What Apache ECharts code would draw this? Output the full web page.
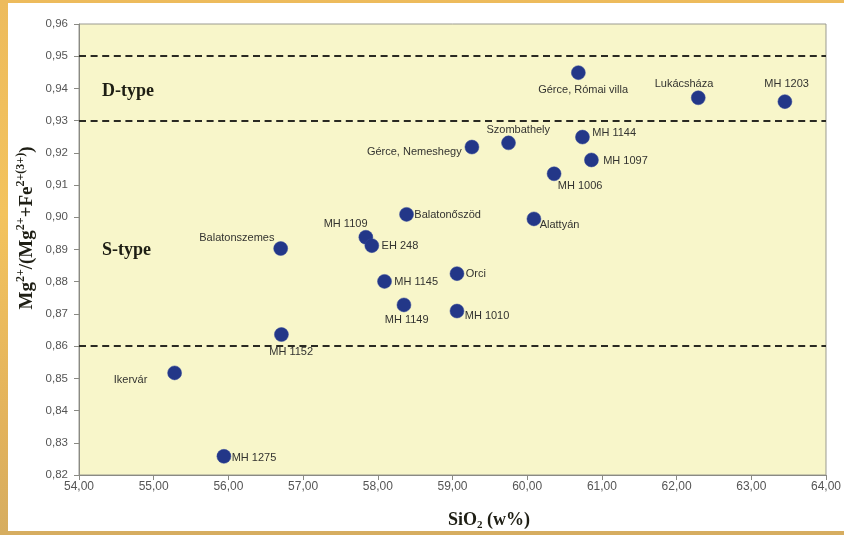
<!DOCTYPE html>
<html>
<head>
<meta charset="utf-8">
<script src="https://cdn.jsdelivr.net/npm/echarts@6/dist/echarts.min.js"></script>
<style>
  html, body { margin:0; padding:0; width:844px; height:535px; overflow:hidden;
    background: linear-gradient(180deg, #EDBB5C 0%, #F3C35E 40%, #E2B25C 80%, #D6AD60 100%); }
  #panel { position:absolute; left:8px; top:3px; width:836px; height:528px; background:#ffffff; }
  #chart { position:absolute; left:0; top:0; width:844px; height:535px; }
</style>
</head>
<body>
<div id="panel"></div>
<div id="chart"></div>
<script>
// ---- data ----
const sampleNames = [
  'Gérce, Római villa', 'Lukácsháza', 'MH 1203', 'MH 1144', 'Szombathely',
  'Gérce, Nemeshegy', 'MH 1097', 'MH 1006', 'Balatonőszöd', 'Alattyán',
  'MH 1109', 'EH 248', 'Balatonszemes', 'Orci', 'MH 1145',
  'MH 1149', 'MH 1010', 'MH 1152', 'Ikervár', 'MH 1275'
];
const sio2 = [
  60.685, 62.29, 63.45, 60.74, 59.75,
  59.26, 60.86, 60.36, 58.385, 60.09,
  57.84, 57.92, 56.70, 59.06, 58.09,
  58.35, 59.06, 56.71, 55.28, 55.94
];
const mgRatio = [
  0.9449, 0.9371, 0.9359, 0.9249, 0.9231,
  0.9218, 0.9178, 0.9135, 0.9009, 0.8995,
  0.8938, 0.8912, 0.8903, 0.8825, 0.8801,
  0.8728, 0.8709, 0.8636, 0.8517, 0.8258
];
const boundaryLines = [0.95, 0.93, 0.86];
const fieldLabels = ['D-type', 'S-type'];

// ---- presentation: label placement relative to dot centre [dx, dy, align] ----
const labelPlacement = {
  'Gérce, Római villa': [5, 18, 'center'],
  'Lukácsháza': [-14, -14, 'center'],
  'MH 1203': [2, -17, 'center'],
  'MH 1144': [10, -4, 'left'],
  'Szombathely': [10, -13, 'center'],
  'Gérce, Nemeshegy': [-10, 5, 'right'],
  'MH 1097': [12, 1, 'left'],
  'MH 1006': [4, 12, 'left'],
  'Balatonőszöd': [8, 1, 'left'],
  'Alattyán': [6, 6, 'left'],
  'MH 1109': [-20, -13, 'center'],
  'EH 248': [10, 1, 'left'],
  'Balatonszemes': [-6, -10, 'right'],
  'Orci': [9, 1, 'left'],
  'MH 1145': [10, 1, 'left'],
  'MH 1149': [3, 15, 'center'],
  'MH 1010': [8, 5, 'left'],
  'MH 1152': [10, 18, 'center'],
  'Ikervár': [-27, 7, 'right'],
  'MH 1275': [8, 2, 'left']
};

const SYM = 14;
const seriesData = sampleNames.map((n, i) => {
  const p = labelPlacement[n];
  return {
    name: n,
    value: [sio2[i], mgRatio[i]],
    label: {
      show: true,
      formatter: n,
      position: [SYM / 2 + p[0], SYM / 2 + p[1]],
      align: p[2],
      verticalAlign: 'middle'
    }
  };
});

const fmt = v => v.toFixed(2).replace('.', ',');
const serifBold = { fontFamily: 'Liberation Serif', fontWeight: 'bold', fill: '#1e1e14' };

const chart = echarts.init(document.getElementById('chart'), null, { renderer: 'canvas' });
chart.setOption({
  animation: false,
  backgroundColor: 'transparent',
  grid: {
    left: 79, right: 16, top: 24, bottom: 60,
    show: true, backgroundColor: '#F8F6CA', borderColor: '#9a9a90', borderWidth: 1
  },
  xAxis: {
    type: 'value', min: 54, max: 64, interval: 1,
    axisLine: { show: true, lineStyle: { color: '#8a8a84', width: 1 } },
    axisTick: { show: true, length: 5, lineStyle: { color: '#8a8a84' } },
    splitLine: { show: false },
    axisLabel: { formatter: fmt, color: '#555', fontSize: 12, fontFamily: 'Liberation Sans', margin: 6 }
  },
  yAxis: {
    type: 'value', min: 0.82, max: 0.96, interval: 0.01,
    axisLine: { show: true, lineStyle: { color: '#8a8a84', width: 1 } },
    axisTick: { show: true, length: 5, lineStyle: { color: '#8a8a84' } },
    splitLine: { show: false },
    axisLabel: { formatter: fmt, color: '#555', fontSize: 11.5, fontFamily: 'Liberation Sans', margin: 11 }
  },
  series: [{
    type: 'scatter',
    symbol: 'circle',
    symbolSize: SYM,
    itemStyle: { color: '#233788', opacity: 1, borderColor: '#33479a', borderWidth: 0.5 },
    label: { color: '#333330', fontSize: 11, fontFamily: 'Liberation Sans' },
    data: seriesData,
    markLine: {
      silent: true,
      symbol: ['none', 'none'],
      label: { show: false },
      lineStyle: { color: '#2a2a22', width: 2, type: [7, 4.6] },
      data: boundaryLines.map(v => ({ yAxis: v }))
    }
  }],
  graphic: [
    { type: 'text', left: 102, top: 82, style: Object.assign({ text: fieldLabels[0], fontSize: 18 }, serifBold) },
    { type: 'text', left: 102, top: 241, style: Object.assign({ text: fieldLabels[1], fontSize: 18 }, serifBold) },
    {
      type: 'text', x: 27, y: 228, rotation: Math.PI / 2,
      style: {
        text: 'Mg{s|2+}/(Mg{s|2+}+Fe{s|2+(3+)})',
        fontFamily: 'Liberation Serif', fontWeight: 'bold', fontSize: 19, fill: '#1e1e14',
        align: 'center', verticalAlign: 'middle', textAlign: 'center', textVerticalAlign: 'middle',
        lineHeight: 24,
        rich: {
          s: { fontSize: 12, fontFamily: 'Liberation Serif', fontWeight: 'bold', verticalAlign: 'top', lineHeight: 12 }
        }
      }
    },
    {
      type: 'text', x: 448, y: 520,
      style: {
        text: 'SiO{d|2} (w%)',
        fontFamily: 'Liberation Serif', fontWeight: 'bold', fontSize: 18, fill: '#1e1e14',
        align: 'left', verticalAlign: 'middle', textAlign: 'left', textVerticalAlign: 'middle',
        lineHeight: 22,
        rich: {
          d: { fontSize: 11, fontFamily: 'Liberation Serif', fontWeight: 'bold', verticalAlign: 'bottom', lineHeight: 11 }
        }
      }
    }
  ]
});
</script>
</body>
</html>
